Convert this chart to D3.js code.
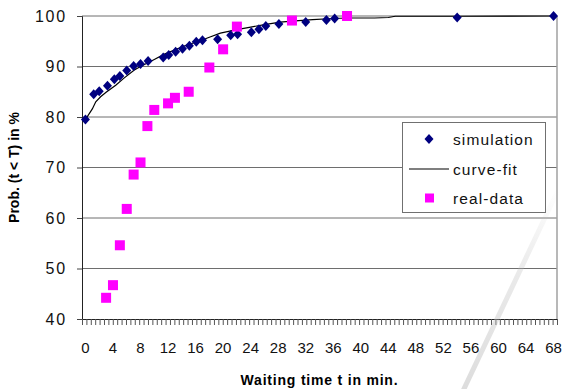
<!DOCTYPE html>
<html>
<head>
<meta charset="utf-8">
<script src="https://cdn.jsdelivr.net/npm/d3@7"></script>
<style>
  body { margin: 0; background: #fff; }
  svg { display: block; font-family: 'Liberation Sans', Arial, sans-serif; }
</style>
</head>
<body>
<svg id="canvas" width="564" height="389"></svg>
<script>
// valores
let simX = [0, 1.2, 2, 3.2, 4.2, 5, 6, 7, 8, 9.1, 11.3, 12.1, 13.1, 14.1, 15.1, 16.1, 17, 19.2, 21.1, 22.1, 24.1, 25.2, 26.2, 28.1, 32, 35, 36.2, 54, 68]
let simY = [79.5, 84.5, 85.1, 86.2, 87.5, 88.1, 89.2, 90.1, 90.5, 91.1, 91.8, 92.3, 92.9, 93.5, 94.1, 94.9, 95.2, 95.4, 96.2, 96.4, 96.8, 97.4, 98.0, 98.4, 98.8, 99.2, 99.5, 99.7, 100]

let fitX = [0, 1, 1.5, 2.2, 3, 3.7, 4.4, 5.6, 7.1, 8, 9, 10, 11.4, 13, 14.8, 16.3, 18, 19.6, 22, 24, 26, 28.3, 30, 33, 36, 38, 42, 44, 45, 54, 68]
let fitY = [79.5, 81.6, 83.0, 84.0, 84.9, 85.6, 86.3, 87.7, 89.3, 90.0, 90.7, 91.4, 92.4, 93.3, 94.3, 94.9, 95.8, 96.6, 97.3, 97.8, 98.3, 98.8, 99.0, 99.3, 99.5, 99.6, 99.6, 99.7, 99.95, 99.95, 100]

let realX = [3, 4, 5, 6, 7, 8, 9, 10, 12, 13, 15, 18, 20, 22, 30, 38]
let realY = [44.2, 46.7, 54.6, 61.8, 68.6, 71.0, 78.2, 81.4, 82.7, 83.8, 85.0, 89.8, 93.4, 97.9, 99.1, 100]

let xLabels = d3.range(0, 69, 4)       // 0, 4, ... 68
let yLabels = [40, 50, 60, 70, 80, 90, 100]
let legendNames = ['simulation', 'curve-fit', 'real-data']

let canvas = d3.select('#canvas')

let plotLeft = 82, plotRight = 557, plotTop = 16, plotBottom = 319

let xScale = d3.scaleLinear().domain([-0.5, 68.5]).range([plotLeft, plotRight])
let yScale = d3.scaleLinear().domain([40, 100]).range([plotBottom, plotTop])

let diamond = (cx, cy) => `M${cx},${cy - 5}L${cx + 4.5},${cy}L${cx},${cy + 5}L${cx - 4.5},${cy}Z`

let drawChart = () => {

    // linhas de grade horizontais
    canvas.selectAll('.grid')
        .data(yLabels.filter(v => v > 40))
        .enter()
        .append('line')
        .attr('class', 'grid')
        .attr('x1', plotLeft)
        .attr('x2', plotRight)
        .attr('y1', v => yScale(v))
        .attr('y2', v => yScale(v))
        .attr('stroke', '#6e6e6e')
        .attr('stroke-width', 1)

    // borda direita da área do gráfico
    canvas.append('line')
        .attr('x1', plotRight).attr('x2', plotRight)
        .attr('y1', plotTop).attr('y2', plotBottom)
        .attr('stroke', '#a0a0a0')
        .attr('stroke-width', 1.5)

    // eixo y
    let yAxis = d3.axisLeft(yScale).tickValues(yLabels).tickSize(5).tickPadding(10)
    let gy = canvas.append('g')
        .attr('transform', `translate(${plotLeft},0)`)
        .call(yAxis)
    gy.select('.domain').attr('stroke', '#222')
    gy.selectAll('.tick line').attr('stroke', '#444')
    gy.selectAll('text')
        .attr('font-size', 16)
        .attr('letter-spacing', 1.8)
        .attr('fill', '#111')
        .attr('font-family', "'Liberation Sans', Arial, sans-serif")

    // eixo x: ticks menores sem texto + rótulos a cada 4
    let minorTicks = d3.range(109).map(i => -0.5 + i * 69 / 108)
    let gx = canvas.append('g')
        .attr('transform', `translate(0,${plotBottom})`)
        .call(d3.axisBottom(xScale).tickValues(minorTicks).tickSize(6).tickFormat(''))
    gx.select('.domain').attr('stroke', '#222')
    gx.selectAll('.tick line').attr('stroke', '#555')

    canvas.selectAll('.xlabel')
        .data(xLabels)
        .enter()
        .append('text')
        .attr('class', 'xlabel')
        .attr('x', d => xScale(d))
        .attr('y', 353)
        .attr('text-anchor', 'middle')
        .attr('font-size', 15)
        .attr('fill', '#111')
        .text(d => d)

    // títulos dos eixos
    canvas.append('text')
        .attr('x', (plotLeft + plotRight) / 2)
        .attr('y', 385)
        .attr('text-anchor', 'middle')
        .attr('font-size', 14)
        .attr('font-weight', 'bold')
        .attr('letter-spacing', 0.8)
        .text('Waiting time t in min.')

    canvas.append('text')
        .attr('transform', `translate(19,${(plotTop + plotBottom) / 2}) rotate(-90)`)
        .attr('text-anchor', 'middle')
        .attr('font-size', 14)
        .attr('font-weight', 'bold')
        .text('Prob. (t < T) in %')

    // curva ajustada
    let line = d3.line()
        .x(d => xScale(d[0]))
        .y(d => yScale(d[1]))
    canvas.append('path')
        .datum(fitX.map((x, i) => [x, fitY[i]]))
        .attr('d', line)
        .attr('fill', 'none')
        .attr('stroke', '#000')
        .attr('stroke-width', 1.2)

    // simulação (losangos azul marinho)
    canvas.selectAll('.sim')
        .data(simX.map((x, i) => [x, simY[i]]))
        .enter()
        .append('path')
        .attr('class', 'sim')
        .attr('d', d => diamond(xScale(d[0]), yScale(d[1])))
        .attr('fill', '#000080')

    // dados reais (quadrados magenta)
    canvas.selectAll('.real')
        .data(realX.map((x, i) => [x, realY[i]]))
        .enter()
        .append('rect')
        .attr('class', 'real')
        .attr('x', d => xScale(d[0]) - 5)
        .attr('y', d => yScale(d[1]) - 5)
        .attr('width', 10)
        .attr('height', 10)
        .attr('fill', '#ff00ff')

    // legenda
    let legend = canvas.append('g')
    legend.append('rect')
        .attr('x', 402.5).attr('y', 122.5)
        .attr('width', 143).attr('height', 90)
        .attr('fill', '#fff')
        .attr('stroke', '#707070')
        .attr('stroke-width', 1)

    let rowY = [139, 169, 198]
    legend.append('path')
        .attr('d', diamond(429, rowY[0]))
        .attr('fill', '#000080')
    legend.append('line')
        .attr('x1', 409).attr('x2', 449)
        .attr('y1', rowY[1]).attr('y2', rowY[1])
        .attr('stroke', '#000')
        .attr('stroke-width', 1.2)
    legend.append('rect')
        .attr('x', 425).attr('y', rowY[2] - 4.5)
        .attr('width', 9).attr('height', 9)
        .attr('fill', '#ff00ff')

    legend.selectAll('.ltext')
        .data(legendNames)
        .enter()
        .append('text')
        .attr('class', 'ltext')
        .attr('x', 453)
        .attr('y', (d, i) => rowY[i] + 5.5)
        .attr('font-size', 15.5)
        .attr('letter-spacing', 1.1)
        .attr('fill', '#111')
        .text(d => d)

    // traço cinza diagonal (marca d'água do original)
    let grad = canvas.append('defs').append('linearGradient')
        .attr('id', 'fade')
        .attr('gradientUnits', 'userSpaceOnUse')
        .attr('x1', 558).attr('y1', 190)
        .attr('x2', 464).attr('y2', 389)
    grad.append('stop').attr('offset', '0').attr('stop-color', '#bbb').attr('stop-opacity', 0)
    grad.append('stop').attr('offset', '0.4').attr('stop-color', '#bbb').attr('stop-opacity', 0.3)
    grad.append('stop').attr('offset', '1').attr('stop-color', '#bbb').attr('stop-opacity', 0.5)
    canvas.append('line')
        .attr('x1', 560).attr('y1', 186)
        .attr('x2', 462).attr('y2', 393)
        .attr('stroke', 'url(#fade)')
        .attr('stroke-width', 5)
}

drawChart()
</script>
</body>
</html>
